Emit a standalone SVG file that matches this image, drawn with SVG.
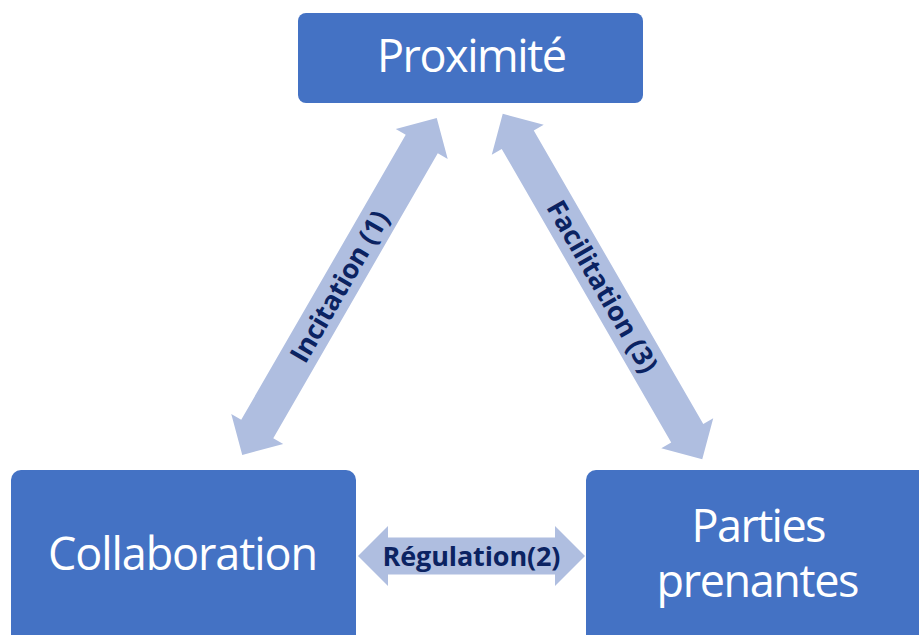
<svg xmlns="http://www.w3.org/2000/svg" width="919" height="635" viewBox="0 0 919 635">
<style>
.box{fill:#4472C4;}
.lbl{font-family:"Open Sans","Noto Sans",sans-serif;fill:#FFFFFF;font-size:45px;text-anchor:middle;}
.arr{fill:#AFBEE0;}
.al{font-family:"Open Sans","Noto Sans",sans-serif;fill:#0B2362;font-size:27px;font-weight:700;text-anchor:middle;}
</style>
<g id="connectors">
  <g id="incitation" transform="translate(339.5 286.5) rotate(-60)">
    <path class="arr" d="M -194.5 0 L -164.5 -30 L -164.5 -18.5 L 164.5 -18.5 L 164.5 -30 L 194.5 0 L 164.5 30 L 164.5 18.5 L -164.5 18.5 L -164.5 30 Z"/>
    <text class="al" x="0" y="9.5" textLength="170">Incitation (1)</text>
  </g>
  <g id="facilitation" transform="translate(602.5 286.5) rotate(60)">
    <path class="arr" d="M -199.5 0 L -169.5 -30 L -169.5 -18.5 L 169.5 -18.5 L 169.5 -30 L 199.5 0 L 169.5 30 L 169.5 18.5 L -169.5 18.5 L -169.5 30 Z"/>
    <text class="al" x="0" y="9.5" textLength="194">Facilitation (3)</text>
  </g>
  <g id="regulation" transform="translate(471.5 556)">
    <path class="arr" d="M -113.5 0 L -83.5 -30 L -83.5 -18.5 L 83.5 -18.5 L 83.5 -30 L 113.5 0 L 83.5 30 L 83.5 18.5 L -83.5 18.5 L -83.5 30 Z"/>
    <text class="al" x="0" y="9.5" textLength="178">Régulation(2)</text>
  </g>
</g>
<g id="proximite">
  <rect class="box" x="298" y="13" width="345" height="90" rx="8"/>
  <text class="lbl" x="472" y="72" textLength="190">Proximité</text>
</g>
<g id="collaboration">
  <rect class="box" x="11" y="470" width="345" height="180" rx="10"/>
  <text class="lbl" x="183" y="570" textLength="270">Collaboration</text>
</g>
<g id="parties">
  <rect class="box" x="586" y="470" width="345" height="180" rx="10"/>
  <text class="lbl" x="759" y="542" textLength="135">Parties</text>
  <text class="lbl" x="758" y="597" textLength="203">prenantes</text>
</g>
</svg>
